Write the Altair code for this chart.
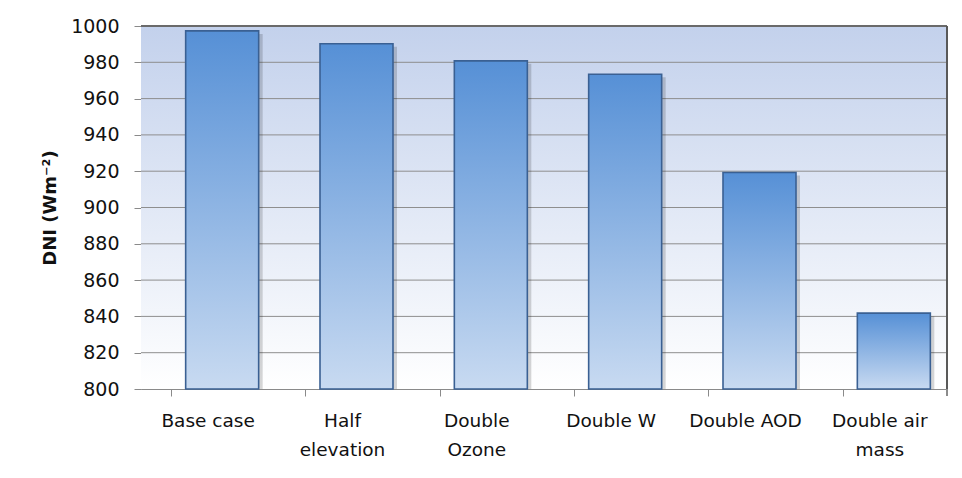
import altair as alt
import pandas as pd

categories = ["Base case", "Half|elevation", "Double|Ozone", "Double W", "Double AOD", "Double air|mass"]
dni_values = [997.3, 990.2, 980.8, 973.4, 919.3, 841.8]
y_ticks = list(range(800, 1001, 20))

df = pd.DataFrame({"case": categories, "dni": dni_values})
grid_df = pd.DataFrame({"dni": y_ticks[1:-1]})

W, H = 806, 363
FONT = "DejaVu Sans"

x_axis = alt.Axis(title=None, labelExpr="split(datum.label, '|')",
                  labelAngle=0, labelFont=FONT, labelFontSize=18.5,
                  labelColor="#111111", labelPadding=15, labelLineHeight=29,
                  labelBaseline="top",
                  bandPosition=0, tickColor="#8a8a8a", tickSize=7,
                  domainColor="#8a8a8a", grid=False)
y_axis = alt.Axis(title="DNI (Wm⁻²)", values=y_ticks, format="d",
                  labelOverlap=False, labelFont=FONT,
                  labelFontSize=19, labelColor="#111111", labelPadding=15,
                  tickColor="#8a8a8a", tickSize=7, domainColor="#8a8a8a",
                  grid=False,
                  titleFont=FONT, titleFontSize=18, titleFontWeight="bold",
                  titleColor="#111111", titlePadding=11)

x_enc = alt.X("case:N", sort=categories,
              scale=alt.Scale(paddingInner=0.455, paddingOuter=0.2275), axis=x_axis)
y_enc = alt.Y("dni:Q", scale=alt.Scale(domain=[800, 1000], nice=False, zero=False),
              axis=y_axis)

bg = alt.Chart(df).mark_rect(
    color=alt.Gradient(gradient="linear", x1=0, y1=0, x2=0, y2=1,
                       stops=[alt.GradientStop(color="#c3d1ec", offset=0),
                              alt.GradientStop(color="#ffffff", offset=1)])
).encode(x=alt.value(0), x2=alt.value(W), y=alt.value(0), y2=alt.value(H))

gridlines = alt.Chart(grid_df).mark_rule(color="#8e8e8e", strokeWidth=1).encode(
    y=y_enc, x=alt.value(0), x2=alt.value(W))

shadow = alt.Chart(df).mark_bar(color="#000000", opacity=0.16, xOffset=18, yOffset=3,
                                width=73, clip=True).encode(
    x=x_enc, y=y_enc, y2=alt.datum(800))

bars = alt.Chart(df).mark_bar(
    width=73, xOffset=14, stroke="#3a6093", strokeWidth=1.6,
    color=alt.Gradient(gradient="linear", x1=0, y1=0, x2=0, y2=1,
                       stops=[alt.GradientStop(color="#5690d6", offset=0),
                              alt.GradientStop(color="#c8daf1", offset=1)])
).encode(x=x_enc, y=y_enc, y2=alt.datum(800))

top_border = alt.Chart(df).mark_rule(color="#6a6a6a", strokeWidth=2).encode(
    x=alt.value(0), x2=alt.value(W), y=alt.value(0))
right_border = alt.Chart(df).mark_rule(color="#5a5a5a", strokeWidth=1.5).encode(
    x=alt.value(W), y=alt.value(0), y2=alt.value(H))
end_tick = alt.Chart(df).mark_rule(color="#8a8a8a").encode(
    x=alt.value(W), y=alt.value(H), y2=alt.value(H + 7))

chart = alt.layer(bg, gridlines, shadow, bars, top_border, right_border, end_tick).properties(
    width=W, height=H,
    autosize=alt.AutoSizeParams(type="none"),
    padding={"left": 141, "top": 26, "right": 15, "bottom": 89},
).configure_view(stroke=None).configure(background="#ffffff")

chart.save("out.html", embed_options={"renderer": "svg", "actions": False})
